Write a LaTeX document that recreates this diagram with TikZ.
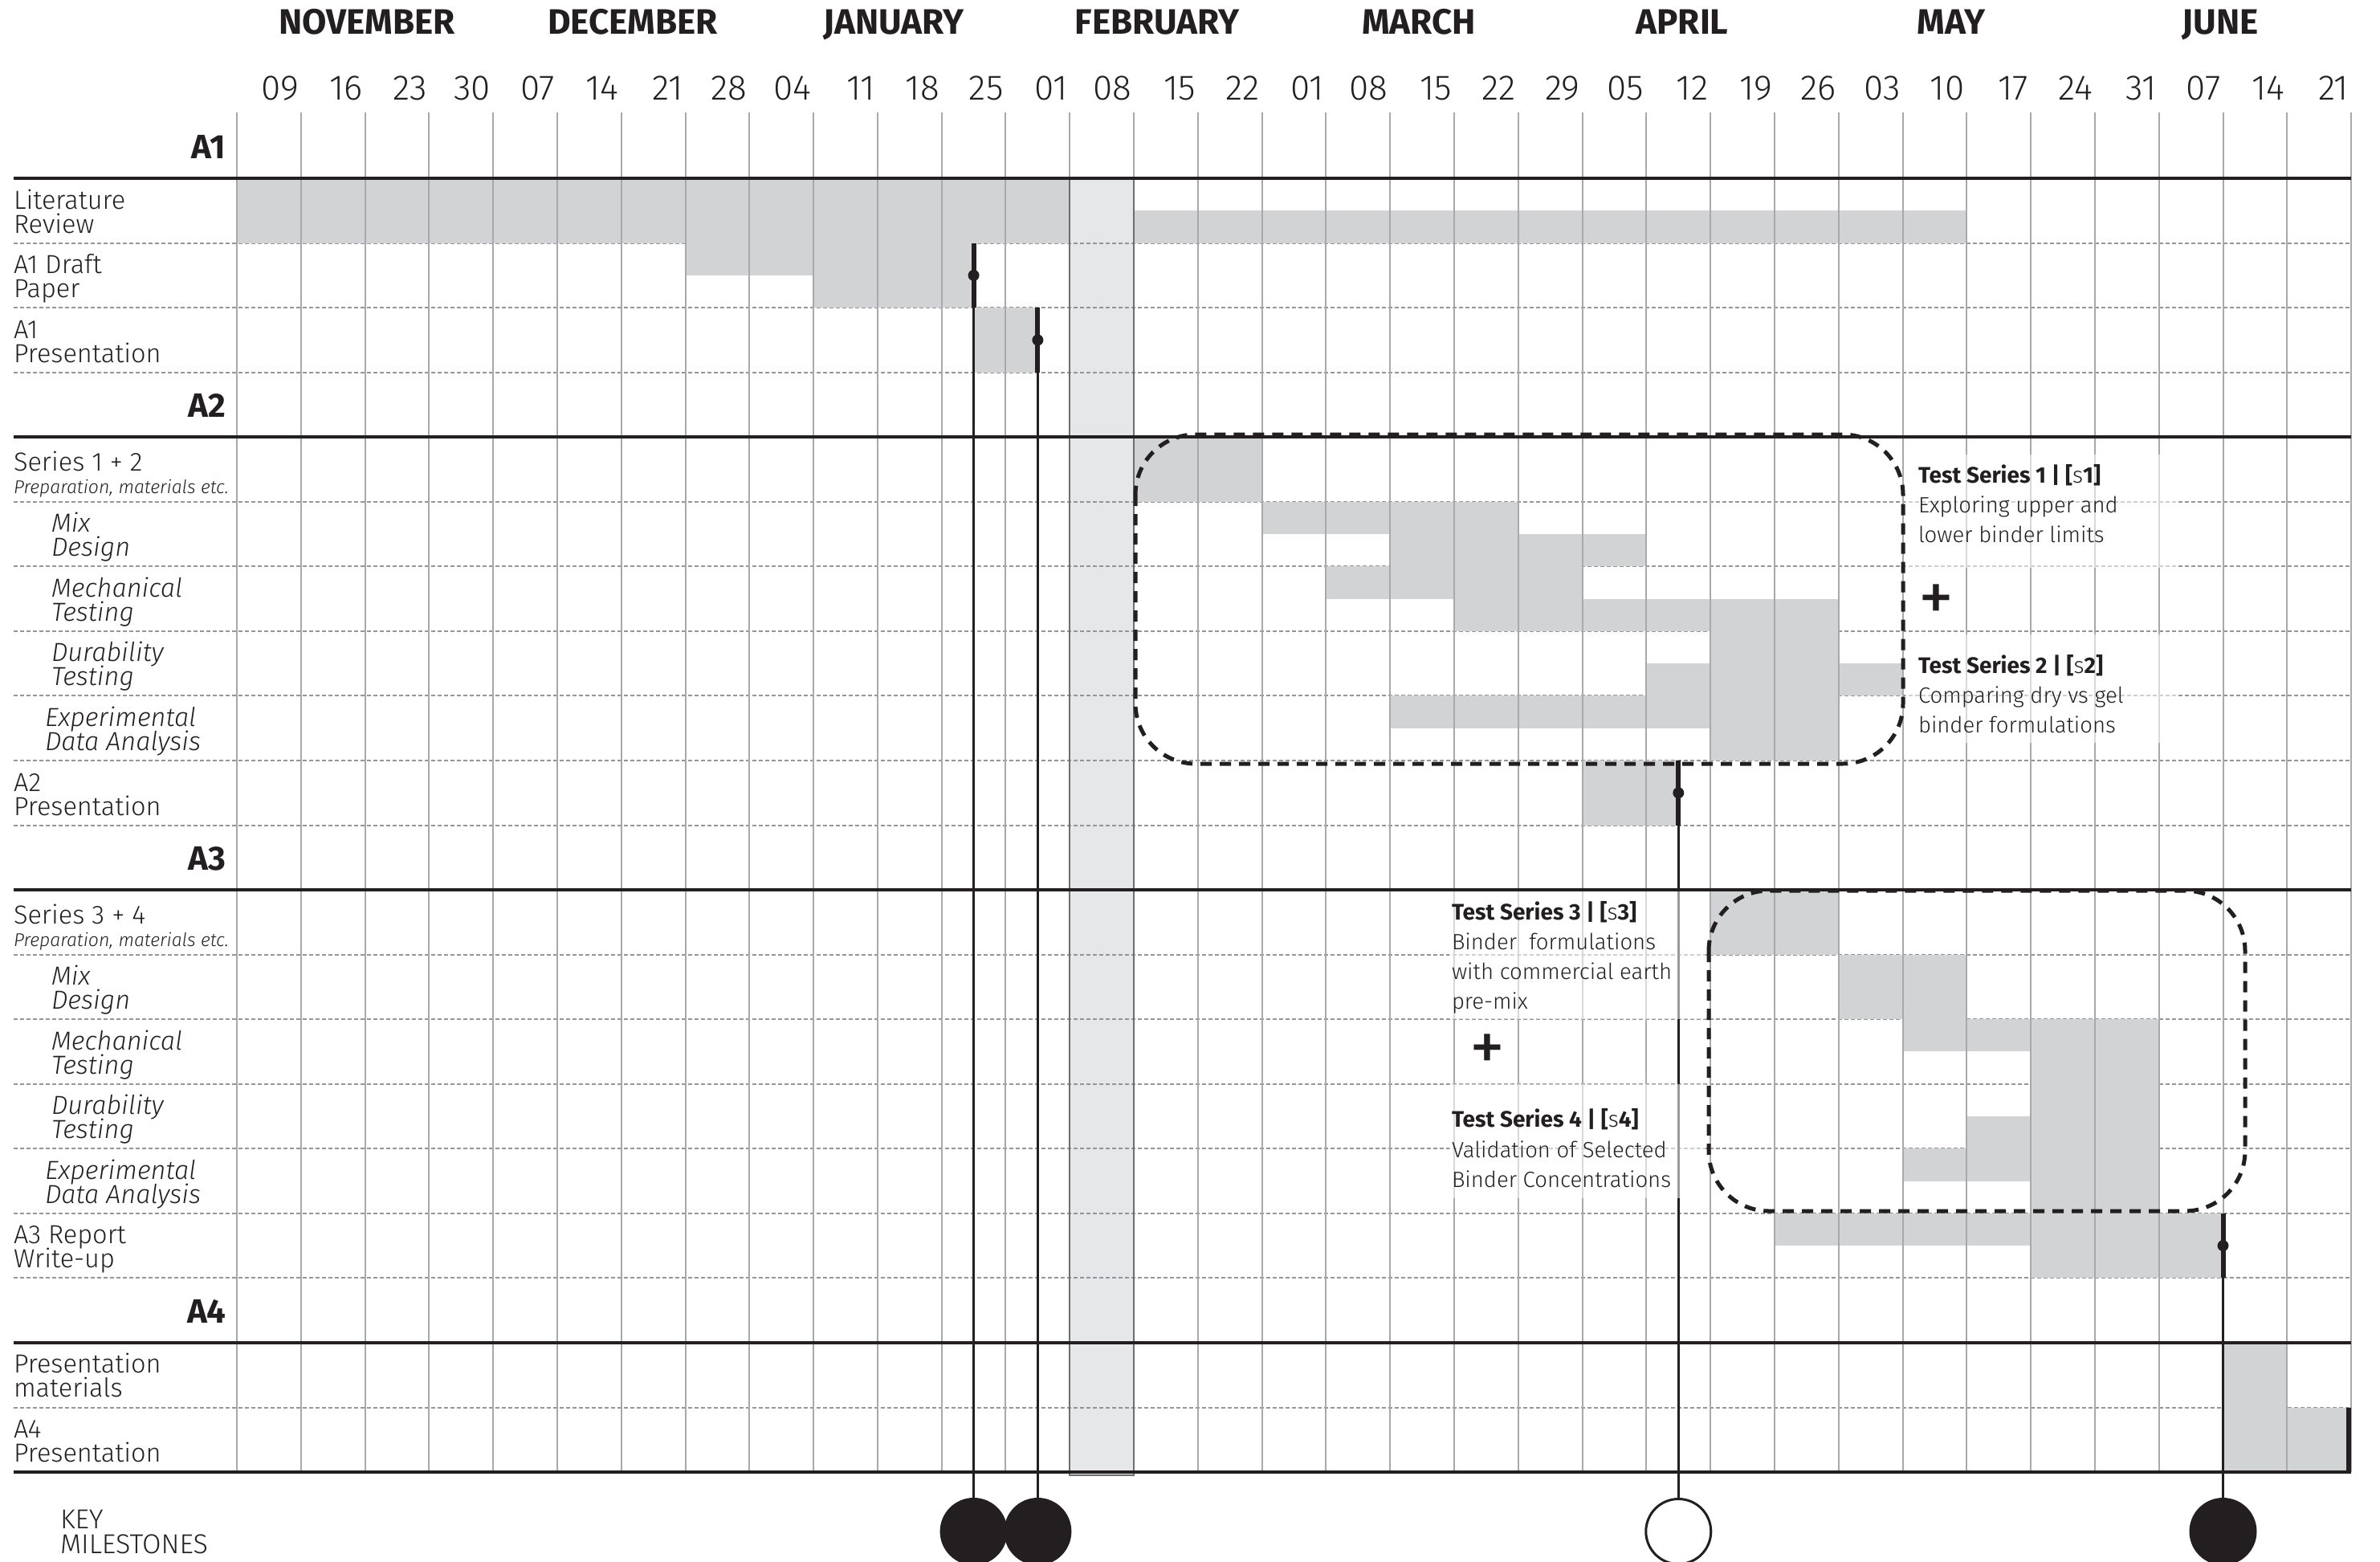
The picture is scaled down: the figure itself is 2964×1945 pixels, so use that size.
\documentclass[tikz,border=0pt]{standalone}
\usepackage{fontspec}
\setmainfont{Fira Sans}
\IfFontExistsTF{Fira Sans Light}{\newfontfamily\lightf{Fira Sans Light}}{\newfontfamily\lightf{Fira Sans}}
\definecolor{ink}{HTML}{231F20}
\definecolor{barc}{HTML}{D1D3D4}
\definecolor{bandc}{HTML}{E6E7E8}
\definecolor{gridc}{HTML}{A7A9AC}
\definecolor{dashc}{HTML}{939598}
\definecolor{bandedge}{HTML}{6D6E71}
\newcommand\barF[3]{\fill[barc] ({C(#1)},{R(#3)}) rectangle ({C(#2)},{R(#3+1)});}
\newcommand\barU[3]{\fill[barc] ({C(#1)},{R(#3)}) rectangle ({C(#2)},{R(#3+0.5)});}
\newcommand\barL[3]{\fill[barc] ({C(#1)},{R(#3+0.5)}) rectangle ({C(#2)},{R(#3+1)});}
\newcommand\twolab[6]{%
  \node[#6] (#1a) at (#2,{R(#3)+38}) {#4};
  \node[#6] (#1b) at (#2,{R(#3)+68}) {#5};}
\begin{document}
\begin{tikzpicture}[x=1pt,y=-1pt,
  declare function={C(\c)=295+\c*79.79; R(\r)=141.5+\r*80.55;},
  every node/.style={inner sep=0pt, outer sep=0pt, text=ink},
  lab/.style={anchor=base west, font=\lightf\fontsize{32.5}{32.5}\selectfont},
  ilab/.style={anchor=base west, font=\lightf\itshape\fontsize{32.5}{32.5}\selectfont},
  slab/.style={anchor=base west, font=\lightf\itshape\fontsize{23}{23}\selectfont},
  keylab/.style={anchor=base west, font=\lightf\fontsize{34}{34}\selectfont},
  month/.style={anchor=base, font=\bfseries\fontsize{44}{44}\selectfont},
  datelab/.style={anchor=base east, font=\lightf\fontsize{44}{44}\selectfont},
  hdr/.style={anchor=base east, font=\bfseries\fontsize{42}{42}\selectfont},
  tstitle/.style={anchor=base west, font=\bfseries\fontsize{28}{28}\selectfont},
  tsbody/.style={anchor=base west, font=\lightf\fontsize{27.5}{27.5}\selectfont},
  plus/.style={font=\mdseries\fontsize{88}{88}\selectfont},
  gridline/.style={draw=gridc, line width=2pt},
  dashline/.style={draw=dashc, line width=2pt, dash pattern=on 5pt off 3pt},
  rule/.style={draw=ink, line width=4pt},
  msthick/.style={draw=ink, line width=6pt},
  msthin/.style={draw=ink, line width=2.5pt},
  dot/.style={circle, fill=ink, minimum size=14pt},
  bigdot/.style={circle, fill=ink, minimum size=84pt},
  opendot/.style={circle, fill=white, draw=ink, line width=3pt, minimum size=81pt},
  groupbox/.style={draw=ink, line width=5pt, dash pattern=on 14pt off 10pt, rounded corners=75pt},
  veil/.style={fill=white, opacity=0.55}
]
\path[use as bounding box] (0,0) rectangle (2964,1945);
% February band
\fill[bandc] ({C(13)},{R(1)}) rectangle ({C(14)},{R(21)+4});
% dashed row separators
\foreach \r in {2,3,4,6,7,8,9,10,11,13,14,15,16,17,18,20}
  \draw[dashline] (17,{R(\r)}) -- ({C(33)},{R(\r)});
% bars
\barF{0}{13}{1} \barL{14}{27}{1}
\barU{7}{9}{2} \barF{9}{11.5}{2}
\barF{11.5}{12.5}{3}
\barF{14}{16}{5}
\barU{16}{18}{6} \barF{18}{20}{6} \barL{20}{22}{6}
\barU{17}{19}{7} \barF{19}{21}{7} \barL{21}{25}{7}
\barL{22}{23}{8} \barF{23}{25}{8} \barL{25}{26}{8}
\barU{18}{23}{9} \barF{23}{25}{9}
\barF{21}{22.5}{10}
\barF{23}{25}{12}
\barF{25}{27}{13}
\barU{26}{28}{14} \barF{28}{30}{14}
\barL{27}{28}{15} \barF{28}{30}{15}
\barU{26}{28}{16} \barF{28}{30}{16}
\barU{24}{28}{17} \barF{28}{31}{17}
\barF{31}{32}{19}
\barF{31}{33}{20}
% vertical grid
\foreach \c in {0,...,33}
  \draw[gridline] ({C(\c)},140) -- ({C(\c)},{R(21)});
\draw[draw=bandedge, line width=2pt] ({C(13)},{R(1)}) -- ({C(13)},{R(21)+4}) -- ({C(14)},{R(21)+4}) -- ({C(14)},{R(1)});
% thick rules
\foreach \r in {1,5,12,19,21}
  \draw[rule] (17,{R(\r)}) -- ({C(33)},{R(\r)});
% milestones
\coordinate (t1) at ({C(11.5)},{R(2)}); \coordinate (b1) at ({C(11.5)},{R(3)});
\coordinate (t2) at ({C(12.5)},{R(3)}); \coordinate (b2) at ({C(12.5)},{R(4)});
\coordinate (t3) at ({C(22.5)},{R(10)}); \coordinate (b3) at ({C(22.5)},{R(11)});
\coordinate (t4) at ({C(31)},{R(17)}); \coordinate (b4) at ({C(31)},{R(18)});
\coordinate (e1) at ({C(33)-3},{R(20)}); \coordinate (e2) at ({C(33)-3},{R(21)});
\node[bigdot] (m1) at ({C(11.5)},1907) {};
\node[bigdot] (m2) at ({C(12.5)},1907) {};
\node[opendot] (m3) at ({C(22.5)},1907) {};
\node[bigdot] (m4) at ({C(31)},1907) {};
\draw[msthin] (b1) -- (m1.north);
\draw[msthin] (b2) -- (m2.north);
\draw[msthin] (b3) -- (m3.north);
\draw[msthin] (b4) -- (m4.north);
\draw[msthick] (t1) -- (b1);
\draw[msthick] (t2) -- (b2);
\draw[msthick] (t3) -- (b3);
\draw[msthick] (t4) -- (b4);
\draw[msthick] (e1) -- (e2);
\node[dot] (dot1) at ({C(11.5)},{R(2.5)}) {};
\node[dot] (dot2) at ({C(12.5)},{R(3.5)}) {};
\node[dot] (dot3) at ({C(22.5)},{R(10.5)}) {};
\node[dot] (dot4) at ({C(31)},{R(17.5)}) {};
% veils behind annotations
\fill[veil] (2373,566) rectangle (2710,707);
\fill[veil] (2373,790) rectangle (2710,925);
\fill[veil] (1805,1110) rectangle (2124,1269);
\fill[veil] (1805,1350) rectangle (2124,1492);
% dashed group boxes
\draw[groupbox] (1414,541) rectangle (2370,951);
\draw[groupbox] (2128,1109) rectangle (2796,1508);
% months
\node[month] (mNov) at (457,43) {NOVEMBER};
\node[month] (mDec) at (788,43) {DECEMBER};
\node[month] (mJan) at (1113,43) {JANUARY};
\node[month] (mFeb) at (1441,43) {FEBRUARY};
\node[month] (mMar) at (1767,43) {MARCH};
\node[month] (mApr) at (2095,43) {APRIL};
\node[month] (mMay) at (2430,43) {MAY};
\node[month] (mJun) at (2765,43) {JUNE};
% dates
\foreach \d [count=\i from 1] in {09,16,23,30,07,14,21,28,04,11,18,25,01,08,15,22,01,08,15,22,29,05,12,19,26,03,10,17,24,31,07,14,21}
  \node[datelab] (dt\i) at ({C(\i)-3},125) {\d};
% section headers
\node[hdr] (hA1) at (281,{R(0)+56}) {A1};
\node[hdr] (hA2) at (281,{R(4)+56}) {A2};
\node[hdr] (hA3) at (281,{R(11)+56}) {A3};
\node[hdr] (hA4) at (281,{R(18)+56}) {A4};
% row labels
\twolab{lit}{17}{1}{Literature}{Review}{lab}
\twolab{draft}{17}{2}{A1 Draft}{Paper}{lab}
\twolab{pres1}{17}{3}{A1}{Presentation}{lab}
\node[lab] (s12) at (17,{R(5)+42}) {Series 1 + 2};
\node[slab] (s12p) at (17,{R(5)+70}) {Preparation, materials etc.};
\twolab{mixA}{64}{6}{Mix}{Design}{ilab}
\twolab{mechA}{64}{7}{Mechanical}{Testing}{ilab}
\twolab{durA}{64}{8}{Durability}{Testing}{ilab}
\twolab{expA}{56}{9}{Experimental}{Data Analysis}{ilab}
\twolab{pres2}{17}{10}{A2}{Presentation}{lab}
\node[lab] (s34) at (17,{R(12)+42}) {Series 3 + 4};
\node[slab] (s34p) at (17,{R(12)+70}) {Preparation, materials etc.};
\twolab{mixB}{64}{13}{Mix}{Design}{ilab}
\twolab{mechB}{64}{14}{Mechanical}{Testing}{ilab}
\twolab{durB}{64}{15}{Durability}{Testing}{ilab}
\twolab{expB}{56}{16}{Experimental}{Data Analysis}{ilab}
\twolab{rep3}{17}{17}{A3 Report}{Write-up}{lab}
\twolab{pmat}{17}{19}{Presentation}{materials}{lab}
\twolab{pres4}{17}{20}{A4}{Presentation}{lab}
\node[keylab] (key1) at (75,1903) {KEY};
\node[keylab] (key2) at (75,1934) {MILESTONES};
% annotations
\node[tstitle] (ts1) at (2389,601) {Test Series 1 | [{\lightf\mdseries s}1]};
\node[tsbody] (ts1a) at (2389,638) {Exploring upper and};
\node[tsbody] (ts1b) at (2389,675) {lower binder limits};
\node[plus] (plus1) at (2411,751) {+};
\node[tstitle] (ts2) at (2389,838) {Test Series 2 | [{\lightf\mdseries s}2]};
\node[tsbody] (ts2a) at (2389,875) {Comparing dry vs gel};
\node[tsbody] (ts2b) at (2389,912) {binder formulations};
\node[tstitle] (ts3) at (1808,1145) {Test Series 3 | [{\lightf\mdseries s}3]};
\node[tsbody] (ts3a) at (1808,1182) {Binder~ formulations};
\node[tsbody] (ts3b) at (1808,1219) {with commercial earth};
\node[tsbody] (ts3c) at (1808,1256) {pre-mix};
\node[plus] (plus2) at (1852,1311) {+};
\node[tstitle] (ts4) at (1808,1403) {Test Series 4 | [{\lightf\mdseries s}4]};
\node[tsbody] (ts4a) at (1808,1441) {Validation of Selected};
\node[tsbody] (ts4b) at (1808,1478) {Binder Concentrations};
\end{tikzpicture}
\end{document}
